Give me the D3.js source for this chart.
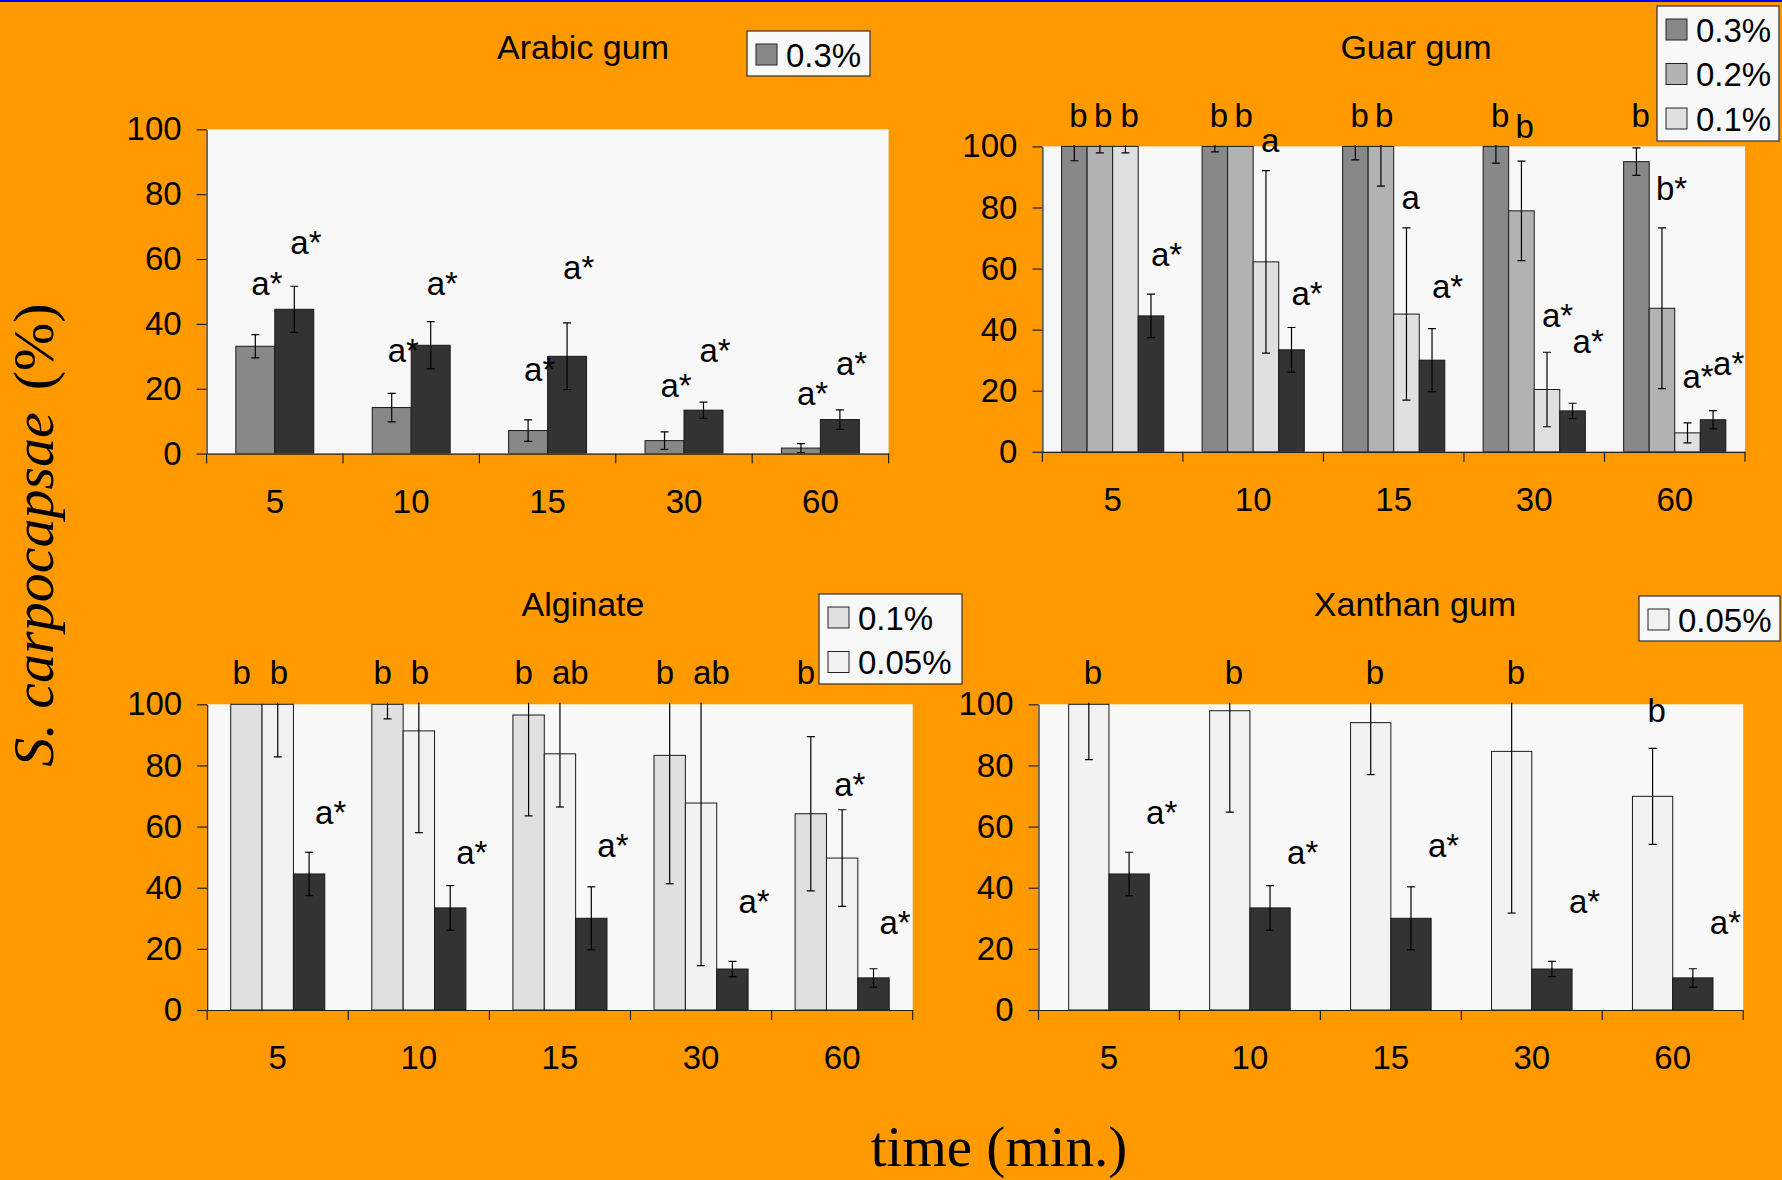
<!DOCTYPE html>
<html>
<head>
<meta charset="utf-8">
<title>S. carpocapsae - gums</title>
<script src="https://d3js.org/d3.v7.min.js"></script>
<style>
body { margin: 0; background: #ff9900; }
svg { display: block; }
</style>
</head>
<body>
<svg id="chart"></svg>
<script>
var times = ["5", "10", "15", "30", "60"];

// control bars (dark), identical in the four panels
var ctrlMean = [44.5, 33.4, 30.0, 13.4, 10.5];
var ctrlErr = [7.1, 7.3, 10.3, 2.5, 3.0];
var ctrlLetters = ["a*", "a*", "a*", "a*", "a*"];

// Arabic gum
var arabic03Mean = [33.1, 14.2, 7.1, 4.0, 1.7];
var arabic03Err = [3.6, 4.4, 3.3, 2.7, 1.4];
var arabic03Letters = ["a*", "a*", "a*", "a*", "a*"];
var arabic03At = [49, 28.1, 22.3, 17.6, 14.9];
var arabicCtrlAt = [61.7, 49, 53.7, 28.1, 24.2];

// Guar gum
var guar03Mean = [100, 100, 100, 100, 95.0];
var guar03Err = [4.7, 1.8, 4.4, 5.5, 4.5];
var guar03Letters = ["b", "b", "b", "b", "b"];
var guar03At = [106.4, 106.4, 106.4, 106.4, 106.4];
var guar02Mean = [100, 100, 100, 78.9, 47.0];
var guar02Err = [2.1, 0, 13, 16.3, 26.3];
var guar02Letters = ["b", "b", "b", "b", "b*"];
var guar02At = [106.4, 106.4, 106.4, 102.7, 82.5];
var guar01Mean = [100, 62.2, 45.1, 20.4, 6.2];
var guar01Err = [2.1, 29.9, 28.2, 12.2, 3.3];
var guar01Letters = ["b", "a", "a", "a*", "a*"];
var guar01At = [106.4, 98.2, 79.5, 40.9, 21];
var guarCtrlAt = [60.8, 48, 50.3, 32.2, 25.1];

// Alginate
var alg01Mean = [100, 100, 96.5, 83.3, 64.2];
var alg01Err = [0, 4.8, 33, 42, 25.2];
var alg01Letters = ["b", "b", "b", "b", "b"];
var alg01At = [106.5, 106.5, 106.5, 106.5, 106.5];
var alg005Mean = [100, 91.3, 83.8, 67.7, 49.7];
var alg005Err = [17.2, 33.3, 17.4, 53.2, 15.8];
var alg005Letters = ["b", "b", "ab", "ab", "a*"];
var alg005At = [106.5, 106.5, 106.5, 106.5, 69.9];
var algCtrlAt = [60.8, 47.6, 49.9, 31.7, 25];

// Xanthan gum
var xan005Mean = [100, 97.9, 94.0, 84.6, 69.9];
var xan005Err = [18.1, 33.2, 17, 52.9, 15.7];
var xan005Letters = ["b", "b", "b", "b", "b"];
var xan005At = [106.5, 106.5, 106.5, 106.5, 94.2];
var xanCtrlAt = [60.8, 47.6, 49.9, 31.7, 25];

var yTicks = [0, 20, 40, 60, 80, 100];

var W = 1782, H = 1180;
var sans = "'Liberation Sans', Arial, sans-serif";
var serif = "'Liberation Serif', 'Times New Roman', serif";

var svg = d3.select("#chart").attr("width", W).attr("height", H);
svg.append("rect").attr("width", W).attr("height", H).attr("fill", "#ff9900");
svg.append("rect").attr("width", W).attr("height", 2).attr("fill", "#0000ff");

var panels = [
  {
    title: "Arabic gum", titleX: 583, titleY: 59,
    left: 206.6, right: 888.6, top: 129.3, bottom: 453.6,
    legend: [747, 31, 123, 45],
    series: [
      { name: "0.3%", color: "#888888", mean: arabic03Mean, err: arabic03Err, letters: arabic03Letters, at: arabic03At, dx: -4, legend: true },
      { name: "ctrl", color: "#333333", mean: ctrlMean, err: ctrlErr, letters: ctrlLetters, at: arabicCtrlAt, dx: -4 }
    ]
  },
  {
    title: "Guar gum", titleX: 1416, titleY: 59,
    left: 1042.4, right: 1745, top: 146.4, bottom: 451.8,
    legend: [1657, 6, 122, 135],
    series: [
      { name: "0.3%", color: "#888888", mean: guar03Mean, err: guar03Err, letters: guar03Letters, at: guar03At, dx: -5, legend: true },
      { name: "0.2%", color: "#b2b2b2", mean: guar02Mean, err: guar02Err, letters: guar02Letters, at: guar02At, dx: -6, legend: true },
      { name: "0.1%", color: "#e0e0e0", mean: guar01Mean, err: guar01Err, letters: guar01Letters, at: guar01At, dx: -5, legend: true },
      { name: "ctrl", color: "#333333", mean: ctrlMean, err: ctrlErr, letters: ctrlLetters, at: guarCtrlAt, dx: 0 }
    ]
  },
  {
    title: "Alginate", titleX: 583, titleY: 616,
    left: 207.2, right: 912.7, top: 704.3, bottom: 1010,
    legend: [819, 594, 143, 90],
    series: [
      { name: "0.1%", color: "#e0e0e0", mean: alg01Mean, err: alg01Err, letters: alg01Letters, at: alg01At, dx: -14, legend: true },
      { name: "0.05%", color: "#f2f2f2", mean: alg005Mean, err: alg005Err, letters: alg005Letters, at: alg005At, dx: -8, legend: true },
      { name: "ctrl", color: "#333333", mean: ctrlMean, err: ctrlErr, letters: ctrlLetters, at: algCtrlAt, dx: 6 }
    ]
  },
  {
    title: "Xanthan gum", titleX: 1415, titleY: 616,
    left: 1038.5, right: 1743.2, top: 704.3, bottom: 1010,
    legend: [1639, 596, 141, 45],
    series: [
      { name: "0.05%", color: "#f2f2f2", mean: xan005Mean, err: xan005Err, letters: xan005Letters, at: xan005At, dx: -5, legend: true },
      { name: "ctrl", color: "#333333", mean: ctrlMean, err: ctrlErr, letters: ctrlLetters, at: xanCtrlAt, dx: 17 }
    ]
  }
];

panels.forEach(drawPanel);

function drawPanel(p, pi) {
  var x0 = d3.scaleBand().domain(times).range([p.left, p.right]);
  var x1 = d3.scaleBand()
      .domain(p.series.map(function (s) { return s.name; }))
      .range([0, x0.bandwidth()])
      .paddingInner(0)
      .paddingOuter(0.75);
  var y = d3.scaleLinear().domain([0, 100]).range([p.bottom, p.top]);

  var g = svg.append("g");

  g.append("rect")
      .attr("x", p.left).attr("y", p.top)
      .attr("width", p.right - p.left).attr("height", p.bottom - p.top)
      .attr("fill", "#f8f8f8");

  var clipId = "clip" + pi;
  svg.append("clipPath").attr("id", clipId)
    .append("rect")
      .attr("x", p.left).attr("y", p.top - 1.5)
      .attr("width", p.right - p.left + 2).attr("height", p.bottom - p.top + 1.5);

  var plot = g.append("g").attr("clip-path", "url(#" + clipId + ")");

  // bars
  p.series.forEach(function (s) {
    plot.selectAll(null).data(times).enter().append("rect")
        .attr("x", function (t) { return x0(t) + x1(s.name); })
        .attr("y", function (t, i) { return y(s.mean[i]); })
        .attr("width", x1.bandwidth())
        .attr("height", function (t, i) { return y(0) - y(s.mean[i]); })
        .attr("fill", s.color)
        .attr("stroke", "#1a1a1a")
        .attr("stroke-width", 1);
  });

  // error bars
  p.series.forEach(function (s) {
    var eb = plot.selectAll(null)
        .data(times.map(function (t, i) { return { t: t, m: s.mean[i], e: s.err[i] }; })
          .filter(function (d) { return d.e > 0; }))
        .enter().append("g")
        .attr("stroke", "#000").attr("stroke-width", 1.2);
    var cx = function (d) { return x0(d.t) + x1(s.name) + x1.bandwidth() / 2; };
    eb.append("line")
        .attr("x1", cx).attr("x2", cx)
        .attr("y1", function (d) { return y(d.m + d.e); })
        .attr("y2", function (d) { return y(d.m - d.e); });
    [1, -1].forEach(function (sg) {
      eb.append("line")
          .attr("x1", function (d) { return cx(d) - 4; })
          .attr("x2", function (d) { return cx(d) + 4; })
          .attr("y1", function (d) { return y(d.m + sg * d.e); })
          .attr("y2", function (d) { return y(d.m + sg * d.e); });
    });
  });

  // y axis
  var ya = g.append("g")
      .attr("transform", "translate(" + p.left + ",0)")
      .call(d3.axisLeft(y).tickValues(yTicks).tickSize(10).tickSizeOuter(0).tickPadding(15));
  ya.selectAll("text").attr("font-family", sans).attr("font-size", 33).attr("fill", "#000");
  ya.selectAll("line,path").attr("stroke", "#222").attr("stroke-width", 1.2);

  // x axis: labels at category centres, ticks on boundaries
  var xa = g.append("g")
      .attr("transform", "translate(0," + p.bottom + ")")
      .call(d3.axisBottom(x0).tickSize(0).tickSizeOuter(0).tickPadding(36));
  xa.selectAll("text").attr("font-family", sans).attr("font-size", 33).attr("fill", "#000");
  xa.select(".domain").attr("stroke", "#222").attr("stroke-width", 1.2);
  var bounds = times.map(function (t) { return x0(t); }).concat([p.right]);
  xa.selectAll(".bound").data(bounds).enter().append("line")
      .attr("x1", function (d) { return d; }).attr("x2", function (d) { return d; })
      .attr("y1", 0).attr("y2", 10)
      .attr("stroke", "#222").attr("stroke-width", 1.2);

  // significance letters
  p.series.forEach(function (s) {
    g.selectAll(null).data(times).enter().append("text")
        .attr("x", function (t) { return x0(t) + x1(s.name) + x1.bandwidth() / 2 + s.dx; })
        .attr("y", function (t, i) { return y(s.at[i]); })
        .attr("font-family", sans).attr("font-size", 33)
        .text(function (t, i) { return s.letters[i]; });
  });

  // title
  g.append("text")
      .attr("x", p.titleX).attr("y", p.titleY)
      .attr("text-anchor", "middle")
      .attr("font-family", sans).attr("font-size", 34)
      .text(p.title);

  // legend
  var lb = p.legend;
  var lg = g.append("g");
  lg.append("rect")
      .attr("x", lb[0]).attr("y", lb[1]).attr("width", lb[2]).attr("height", lb[3])
      .attr("fill", "#f8f8f8").attr("stroke", "#333").attr("stroke-width", 1.2);
  var items = p.series.filter(function (s) { return s.legend; });
  items.forEach(function (s, i) {
    var cy = lb[1] + 23.5 + i * 44.5;
    lg.append("rect")
        .attr("x", lb[0] + 9).attr("y", cy - 10.5)
        .attr("width", 21).attr("height", 21)
        .attr("fill", s.color).attr("stroke", "#222").attr("stroke-width", 1);
    lg.append("text")
        .attr("x", lb[0] + 39).attr("y", cy + 12)
        .attr("font-family", sans).attr("font-size", 33)
        .text(s.name);
  });
}

// shared axis titles
var yt = svg.append("text")
    .attr("transform", "translate(53,535) rotate(-90)")
    .attr("text-anchor", "middle")
    .attr("font-family", serif).attr("font-size", 58);
yt.append("tspan").attr("font-style", "italic").text("S. carpocapsae");
yt.append("tspan").attr("dx", 22).text("(%)");

svg.append("text")
    .attr("x", 999).attr("y", 1166)
    .attr("text-anchor", "middle")
    .attr("font-family", serif).attr("font-size", 57)
    .text("time (min.)");
</script>
</body>
</html>
